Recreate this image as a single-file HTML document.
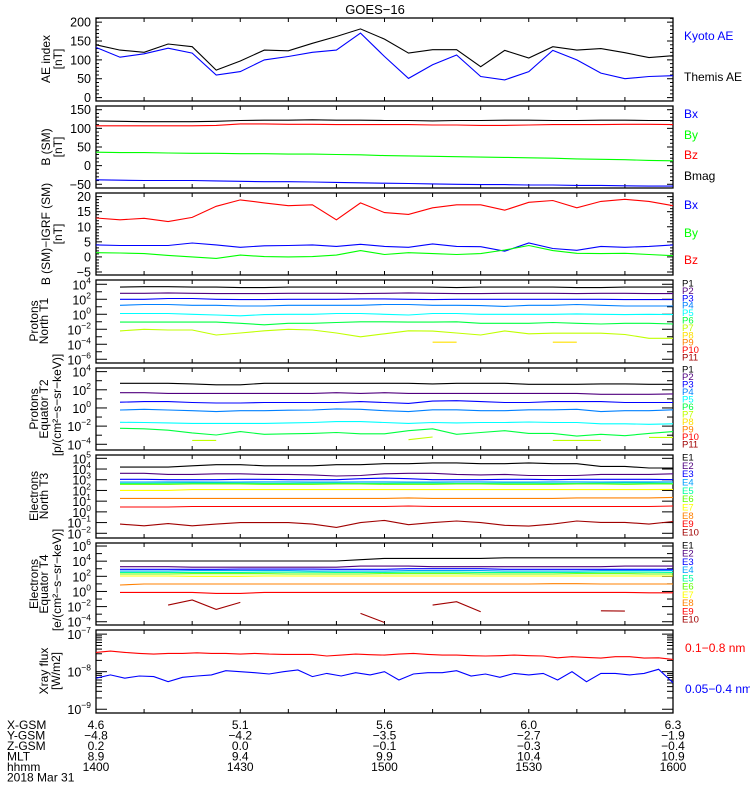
<!DOCTYPE html>
<html><head><meta charset="utf-8"><title>GOES-16</title>
<style>
html,body{margin:0;padding:0;background:#fff;}
svg{display:block;font-family:"Liberation Sans",sans-serif;}
</style></head>
<body>
<svg id="chart" width="750" height="800" viewBox="0 0 750 800" xmlns="http://www.w3.org/2000/svg">
<rect width="750" height="800" fill="#fff"/>
<text x="375" y="14" font-size="13" text-anchor="middle">GOES−16</text>
</svg>
<script>
// ---------- DATA ----------
const aeTimes = [0,5,10,15,20,25,30,35,40,45,50,55,60,65,70,75,80,85,90,95,100,105,110,115,120];
const themisAE = [140,126,120,142,135,73,97,126,124,144,162,182,155,118,127,127,82,125,105,135,126,130,119,106,111];
const kyotoAE = [133,107,116,131,118,60,69,100,109,120,126,171,109,51,87,113,56,47,69,125,100,65,50,56,58];
const bmag = [120,119,118,118,118,119,121,122,122,123,122,122,121,121,120,121,121,122,122,121,121,122,122,121,121];
const bz = [107,107,107,107,107,108,112,112,111,111,110,110,110,110,109,109,108,108,109,110,110,110,111,111,110];
const by = [36,35,35,34,33,33,32,32,31,31,30,29,27,26,25,24,23,22,21,20,18,17,16,14,13];
const bx = [-38,-39,-40,-40,-40,-41,-42,-43,-43,-44,-45,-46,-47,-48,-49,-50,-51,-51,-52,-52,-53,-53,-54,-55,-55];
const dBz = [12.9,12.3,12.8,11.7,13.1,16.8,18.9,17.9,17.0,17.3,12.3,17.9,14.7,14.1,16.3,17.3,17.3,15.5,18.1,18.7,16.3,18.4,19.1,18.4,17.0];
const dBx = [4.0,3.8,3.8,3.8,4.6,4.0,3.2,3.7,3.8,4.0,3.5,4.2,3.5,3.2,4.3,3.5,3.4,1.9,4.6,2.8,2.2,3.5,3.2,3.5,4.0];
const dBy = [1.4,1.3,1.1,0.5,0.0,-0.5,0.6,0.1,0.0,0.1,0.6,2.1,0.8,1.4,1.1,0.8,1.1,2.3,3.8,2.1,1.2,1.1,1.2,0.8,0.4];

const pTimes = [5,10,15,20,25,30,35,40,45,50,55,60,65,70,75,80,85,90,95,100,105,110,115,120];
// Protons North T1 (log10 flux)
const t1P1 = [3.62,3.68,3.68,3.62,3.62,3.55,3.55,3.62,3.62,3.62,3.62,3.62,3.62,3.62,3.55,3.62,3.62,3.62,3.62,3.55,3.55,3.62,3.62,3.62];
const t1P2 = [2.8,2.8,2.85,2.8,2.75,2.75,2.75,2.8,2.8,2.8,2.75,2.8,2.85,2.8,2.75,2.75,2.8,2.8,2.8,2.75,2.8,2.8,2.75,2.75];
const t1P3 = [2.0,2.0,2.1,2.1,2.0,1.95,1.95,2.0,2.0,2.0,2.05,2.05,2.0,1.95,2.0,2.0,2.0,2.0,2.0,2.0,2.0,1.95,1.95,1.95];
const t1P4 = [1.2,1.3,1.3,1.2,1.2,1.1,1.1,1.2,1.2,1.2,1.2,1.3,1.3,1.2,1.2,1.15,1.05,1.2,1.2,1.3,1.2,1.1,1.1,1.1];
const t1P5 = [0.1,0.1,0.1,0.0,-0.1,-0.2,-0.05,0.0,0.0,0.1,0.1,0.0,-0.1,0.1,0.1,0.0,0.0,0.0,0.0,0.05,0.0,-0.05,0.0,-0.05];
const t1P6 = [-1.05,-1.05,-1.05,-1.05,-1.05,-1.2,-1.4,-1.2,-1.2,-1.1,-1.0,-1.0,-1.05,-1.05,-1.0,-1.2,-1.2,-1.2,-1.1,-1.2,-1.3,-1.2,-1.2,-1.3];
const t1P7 = [-2.22,-2.0,-2.1,-2.1,-2.76,-2.5,-2.2,-2.0,-2.1,-2.5,-3.0,-2.6,-2.2,-2.25,-2.5,-2.76,-2.22,-2.6,-2.53,-2.53,-2.53,-2.7,-3.2,-3.2];
const t1P8 = [null,null,null,null,null,null,null,null,null,null,null,null,null,-3.73,-3.73,null,null,null,-3.73,-3.73,null,null,null,null];
// Protons Equator T2
const t2P1 = [2.72,2.72,2.72,2.65,2.55,2.55,2.72,2.72,2.72,2.72,2.72,2.72,2.72,2.65,2.72,2.72,2.72,2.6,2.6,2.6,2.65,2.65,2.6,2.6];
const t2P2 = [1.68,1.68,1.6,1.6,1.6,1.6,1.6,1.6,1.6,1.68,1.6,1.68,1.6,1.6,1.6,1.6,1.6,1.6,1.6,1.6,1.5,1.5,1.5,1.55];
const t2P3 = [0.63,0.7,0.7,0.6,0.55,0.55,0.6,0.6,0.6,0.6,0.7,0.6,0.5,0.75,0.8,0.7,0.6,0.6,0.7,0.7,0.7,0.6,0.6,0.6];
const t2P4 = [-0.22,-0.15,-0.22,-0.3,-0.4,-0.3,-0.3,-0.25,-0.22,-0.1,-0.15,-0.3,-0.4,-0.2,-0.2,-0.3,-0.3,-0.2,-0.2,-0.15,-0.4,-0.3,-0.3,-0.2];
const t2P5 = [-1.58,-1.6,-1.65,-1.7,-1.7,-1.7,-1.7,-1.65,-1.6,-1.5,-1.5,-1.6,-1.7,-1.6,-1.65,-1.6,-1.6,-1.55,-1.6,-1.6,-1.75,-1.75,-1.8,-1.75];
const t2P6 = [-2.24,-2.3,-2.45,-2.75,-2.98,-2.6,-2.9,-2.85,-2.8,-2.7,-2.85,-2.85,-2.5,-2.3,-2.9,-2.7,-2.5,-2.8,-2.8,-3.1,-2.9,-3.05,-2.8,-2.6];
const t2P7 = [null,null,null,-3.57,-3.57,null,null,null,null,null,null,null,-3.5,-3.2,null,null,null,null,-3.57,-3.57,-3.57,null,-3.24,-3.24];
// Electrons North T3
const t3E1 = [4.18,4.18,4.18,4.3,4.4,4.4,4.3,4.3,4.3,4.4,4.4,4.5,4.5,4.57,4.57,4.5,4.5,4.57,4.5,4.5,4.25,4.25,4.1,4.1];
const t3E2 = [3.6,3.6,3.5,3.5,3.55,3.55,3.5,3.5,3.45,3.35,3.4,3.55,3.6,3.6,3.5,3.45,3.5,3.4,3.4,3.4,3.5,3.5,3.5,3.55];
const t3E3 = [3.04,3.04,3.0,3.0,3.0,3.04,3.04,3.0,3.0,3.0,3.1,3.15,3.1,3.0,3.0,3.0,3.04,3.04,3.0,3.04,3.04,3.04,3.04,3.0];
const t3E4 = [2.78,2.78,2.8,2.8,2.78,2.78,2.8,2.8,2.78,2.78,2.8,2.8,2.78,2.78,2.8,2.8,2.78,2.78,2.8,2.8,2.78,2.8,2.8,2.8];
const t3E5 = [2.66,2.66,2.68,2.7,2.7,2.68,2.66,2.66,2.68,2.68,2.66,2.66,2.68,2.68,2.66,2.66,2.68,2.68,2.66,2.66,2.68,2.7,2.7,2.66];
const t3E6 = [2.57,2.57,2.57,2.6,2.6,2.6,2.57,2.57,2.57,2.6,2.6,2.57,2.57,2.57,2.6,2.6,2.57,2.57,2.57,2.6,2.6,2.57,2.6,2.6];
const t3E7 = [2.0,2.0,2.0,2.08,2.08,2.08,2.08,2.08,2.08,2.08,2.08,2.08,2.08,2.08,2.08,2.08,2.08,2.08,2.08,2.08,2.08,2.08,2.08,2.1];
const t3E8 = [1.26,1.26,1.26,1.26,1.26,1.26,1.26,1.26,1.26,1.26,1.26,1.26,1.3,1.26,1.26,1.26,1.26,1.26,1.26,1.3,1.3,1.3,1.3,1.35];
const t3E9 = [0.45,0.45,0.45,0.5,0.5,0.5,0.5,0.5,0.5,0.5,0.5,0.5,0.55,0.5,0.5,0.5,0.5,0.5,0.5,0.5,0.5,0.5,0.5,0.55];
const t3E10 = [-1.14,-1.3,-1.1,-1.3,-1.14,-1.0,-1.0,-1.0,-1.14,-1.45,-1.0,-0.8,-1.2,-1.0,-0.85,-1.0,-1.25,-1.33,-1.14,-0.85,-0.98,-0.98,-1.14,-0.9];
// Electrons Equator T4
const t4E1 = [4.02,4.02,4.02,4.02,4.02,4.02,4.02,4.02,4.02,4.02,4.2,4.37,4.37,4.37,4.37,4.37,4.45,4.45,4.45,4.45,4.45,4.45,4.45,4.45];
const t4E2 = [3.27,3.27,3.27,3.2,3.2,3.2,3.2,3.2,3.2,3.2,3.35,3.35,3.35,3.27,3.27,3.27,3.27,3.27,3.27,3.27,3.27,3.35,3.35,3.35];
const t4E3 = [2.92,2.92,2.92,2.92,2.92,2.95,2.95,2.95,2.95,2.92,2.92,2.92,3.0,3.0,3.0,3.0,2.92,2.92,2.92,2.92,2.92,2.92,2.92,2.92];
const t4E4 = [2.7,2.7,2.7,2.75,2.75,2.75,2.75,2.75,2.7,2.7,2.7,2.7,2.75,2.75,2.75,2.75,2.7,2.7,2.7,2.7,2.75,2.75,2.75,2.75];
const t4E5 = [2.52,2.52,2.52,2.52,2.52,2.52,2.55,2.55,2.55,2.52,2.52,2.52,2.55,2.55,2.55,2.52,2.52,2.52,2.52,2.52,2.55,2.55,2.55,2.52];
const t4E6 = [2.3,2.3,2.3,2.35,2.35,2.35,2.35,2.3,2.3,2.3,2.3,2.35,2.35,2.35,2.35,2.3,2.3,2.3,2.3,2.35,2.35,2.35,2.3,2.3];
const t4E7 = [2.04,2.04,2.04,2.0,2.0,2.0,2.04,2.04,2.04,2.04,2.04,2.04,2.04,2.04,2.04,2.04,2.04,2.04,2.04,2.04,2.04,2.04,2.04,2.04];
const t4E8 = [0.85,0.98,0.98,0.98,0.98,0.98,0.98,0.98,0.98,0.98,0.98,0.98,0.98,0.98,0.98,0.98,0.98,0.98,1.02,1.02,0.98,0.98,0.98,0.98];
const t4E9 = [-0.12,-0.12,-0.12,-0.12,-0.25,-0.25,-0.12,-0.12,-0.12,-0.12,-0.12,-0.12,-0.12,-0.12,-0.12,-0.12,-0.12,-0.12,-0.12,-0.12,-0.12,-0.12,-0.18,-0.18];
const t4E10 = [null,null,-1.8,-1.13,-2.37,-1.44,null,null,null,null,-2.9,-4.1,null,-1.8,-1.35,-2.68,null,null,null,null,-2.55,-2.6,null,null];

// X-ray flux, W/m2, 3-minute samples
const xTimes = [0,3,6,9,12,15,18,21,24,27,30,33,36,39,42,45,48,51,54,57,60,63,66,69,72,75,78,81,84,87,90,93,96,99,102,105,108,111,114,117,120];
const xrayLong = [3.26e-8,3.54e-8,3.26e-8,3.07e-8,2.94e-8,3.07e-8,3.07e-8,3.19e-8,3.07e-8,3.07e-8,2.94e-8,3.07e-8,2.94e-8,2.89e-8,2.89e-8,2.89e-8,2.61e-8,2.77e-8,2.94e-8,2.83e-8,2.77e-8,2.94e-8,3.07e-8,2.89e-8,2.77e-8,2.77e-8,2.66e-8,2.61e-8,2.66e-8,2.77e-8,2.66e-8,2.61e-8,2.35e-8,2.5e-8,2.4e-8,2.3e-8,2.5e-8,2.5e-8,2.3e-8,2.35e-8,2.13e-8];
const xrayShort = [6.7e-9,8.2e-9,6.7e-9,7.7e-9,7.4e-9,5.4e-9,7.1e-9,7.7e-9,8.2e-9,1.06e-8,1.0e-8,9.4e-9,8.7e-9,1.0e-8,1.11e-8,7.4e-9,9.0e-9,7.7e-9,9.4e-9,8.2e-9,1.0e-8,6.0e-9,8.7e-9,9.4e-9,9.4e-9,1.06e-8,7.7e-9,8.7e-9,7.1e-9,9.0e-9,8.2e-9,9.0e-9,6.0e-9,1.0e-8,5.4e-9,9.0e-9,9.0e-9,8.2e-9,9.0e-9,1.16e-8,5.1e-9];

const xTickLabels = [
  ["4.6","5.1","5.6","6.0","6.3"],
  ["−4.8","−4.2","−3.5","−2.7","−1.9"],
  ["0.2","0.0","−0.1","−0.3","−0.4"],
  ["8.9","9.4","9.9","10.4","10.9"],
  ["1400","1430","1500","1530","1600"]
];
const xTickTimes = [0,30,60,90,120];
const rowNames = ["X-GSM","Y-GSM","Z-GSM","MLT","hhmm"];

// ---------- DRAWING ----------
const NS = "http://www.w3.org/2000/svg";
const svg = document.getElementById('chart');
const X0 = 96, X1 = 673;
function xs(t){ return X0 + (t/120)*(X1-X0); }
function mk(tag, attrs, parent){
  const e = document.createElementNS(NS, tag);
  for (const k in attrs) e.setAttribute(k, attrs[k]);
  (parent||svg).appendChild(e);
  return e;
}
function linScale(y0, y1, v0, v1){ return v => y1 - (v - v0)/(v1 - v0)*(y1 - y0); }

function drawLine(g, times, vals, sy, color, name){
  let d = "", pen = false;
  for (let i=0;i<times.length;i++){
    const v = vals[i];
    if (v === null || v === undefined){ pen = false; continue; }
    d += (pen ? "L" : "M") + xs(times[i]).toFixed(1) + "," + sy(v).toFixed(1);
    pen = true;
  }
  const p = mk('path', {d:d, fill:'none', stroke:color, 'stroke-width':'1.1'}, g);
  
  
  return p;
}

function panelFrame(y0, y1, name){
  const g = mk('g', {});
  
  
  const r = mk('rect', {x:X0, y:y0, width:X1-X0, height:y1-y0, fill:'none', stroke:'#000', 'stroke-width':'1.3'}, g);
  
  
  for (let t=10; t<120; t+=10){
    const x = xs(t);
    mk('line', {x1:x, x2:x, y1:y1, y2:y1-4, stroke:'#000'}, g);
    mk('line', {x1:x, x2:x, y1:y0, y2:y0+4, stroke:'#000'}, g);
  }
  return g;
}
function yTick(g, y, len){
  mk('line', {x1:X0, x2:X0+len, y1:y, y2:y, stroke:'#000'}, g);
  mk('line', {x1:X1, x2:X1-len, y1:y, y2:y, stroke:'#000'}, g);
}
function linLabel(g, y, text){
  const t = mk('text', {x:91, y:y+4.5, 'font-size':'12.5', 'text-anchor':'end'}, g);
  t.textContent = text;
  
  
}
function logLabel(g, y, exp){
  const t = mk('text', {x:91, y:y+5, 'font-size':'12.5', 'text-anchor':'end'}, g);
  
  
  const a = mk('tspan', {}, t); a.textContent = "10";
  const b = mk('tspan', {dy:'-6', 'font-size':'8.5'}, t); b.textContent = String(exp).replace('-', '−');
}
function yTitle(lines, cx, cy, xs_, name){
  lines.forEach((s, i) => {
    const t = mk('text', {x:0, y:0, 'font-size':'12', 'text-anchor':'middle',
      transform:'translate(' + xs_[i] + ',' + cy + ') rotate(-90)'});
    t.textContent = s;
    
    
  });
}
function legend(text, x, y, color, size, name){
  const t = mk('text', {x:x, y:y, fill:color, 'font-size':size});
  t.textContent = text;
  
  
}

// Panel 1: AE
(function(){
  const y0=18, y1=101, sy=linScale(y0,y1,-9,211);
  const g = panelFrame(y0,y1,'ae-panel');
  for (let v=0; v<=210; v+=10) yTick(g, sy(v), v%50===0?6:3);
  [0,50,100,150,200].forEach(v=>linLabel(g, sy(v), String(v)));
  drawLine(g, aeTimes, themisAE, sy, '#000', 'themis-ae-line');
  drawLine(g, aeTimes, kyotoAE, sy, '#0000ff', 'kyoto-ae-line');
  yTitle(['AE index','[nT]'], 0, 59, [50,62], 'ae-y-title');
  legend('Kyoto AE', 684, 40, '#0000ff', 12, 'legend-kyoto-ae');
  legend('Themis AE', 684, 81, '#000', 12, 'legend-themis-ae');
})();
// Panel 2: B (SM)
(function(){
  const y0=106, y1=188, sy=linScale(y0,y1,-60,160);
  const g = panelFrame(y0,y1,'b-sm-panel');
  for (let v=-50; v<=150; v+=10) yTick(g, sy(v), v%50===0?6:3);
  [-50,0,50,100,150].forEach(v=>linLabel(g, sy(v), String(v).replace('-','−')));
  drawLine(g, aeTimes, bmag, sy, '#000', 'bmag-line');
  drawLine(g, aeTimes, bz, sy, '#ff0000', 'bz-line');
  drawLine(g, aeTimes, by, sy, '#00ff00', 'by-line');
  drawLine(g, aeTimes, bx, sy, '#0000ff', 'bx-line');
  yTitle(['B (SM)','[nT]'], 0, 147, [50,62], 'b-sm-y-title');
  legend('Bx', 684, 118, '#0000ff', 12, 'legend-bx');
  legend('By', 684, 139, '#00ff00', 12, 'legend-by');
  legend('Bz', 684, 159, '#ff0000', 12, 'legend-bz');
  legend('Bmag', 684, 180, '#000', 12, 'legend-bmag');
})();
// Panel 3: B - IGRF
(function(){
  const y0=193, y1=275, sy=linScale(y0,y1,-6,21.2);
  const g = panelFrame(y0,y1,'b-igrf-panel');
  for (let v=-5; v<=20; v+=1) yTick(g, sy(v), v%5===0?6:3);
  [-5,0,5,10,15,20].forEach(v=>linLabel(g, sy(v), String(v).replace('-','−')));
  drawLine(g, aeTimes, dBz, sy, '#ff0000', 'dbz-line');
  drawLine(g, aeTimes, dBx, sy, '#0000ff', 'dbx-line');
  drawLine(g, aeTimes, dBy, sy, '#00ff00', 'dby-line');
  yTitle(['B (SM)−IGRF (SM)','[nT]'], 0, 234, [50,62], 'b-igrf-y-title');
  legend('Bx', 684, 209, '#0000ff', 12, 'legend-dbx');
  legend('By', 684, 237, '#00ff00', 12, 'legend-dby');
  legend('Bz', 684, 264, '#ff0000', 12, 'legend-dbz');
})();

const pColors = ['#000','#50007f','#0000ff','#0080ff','#00ffff','#00ff40','#c0ff00','#ffe000','#ff8000','#ff0000','#a00000'];
const eColors = ['#000','#50007f','#0000ff','#00a0ff','#00ff9f','#60ff00','#ffff00','#ff8000','#ff0000','#a00000'];

function logPanel(y0,y1,lmin,lmax,labelExps,series,colors,prefix,labelY0,labelY1,name){
  const sy = linScale(y0,y1,lmin,lmax);
  const g = panelFrame(y0,y1,name);
  for (let e=Math.ceil(lmin); e<=Math.floor(lmax); e++) yTick(g, sy(e), labelExps.includes(e)?11:6);
  labelExps.forEach(e=>logLabel(g, sy(e), e));
  series.forEach((s,i)=>drawLine(g, pTimes, s, sy, colors[i], name + '-' + prefix + (i+1)));
  const n = colors.length;
  for (let i=0;i<n;i++){
    const y = labelY0 + (labelY1-labelY0)*i/(n-1);
    const t = mk('text', {x:682, y:y+3.5, fill:colors[i], 'font-size':'9.5'});
    t.textContent = prefix + (i+1);
    
    
  }
  return g;
}
logPanel(280,363,-6.5,4.57,[4,2,0,-2,-4,-6],[t1P1,t1P2,t1P3,t1P4,t1P5,t1P6,t1P7,t1P8],pColors,'P',283,357,'protons-north-t1');
logPanel(368,450,-4.63,4.4,[4,2,0,-2,-4],[t2P1,t2P2,t2P3,t2P4,t2P5,t2P6,t2P7],pColors,'P',369,444,'protons-equator-t2');
logPanel(455,538,-2.44,5.31,[5,4,3,2,1,0,-1,-2],[t3E1,t3E2,t3E3,t3E4,t3E5,t3E6,t3E7,t3E8,t3E9,t3E10],eColors,'E',457,532,'electrons-north-t3');
logPanel(543,625,-4.43,6.4,[6,4,2,0,-2,-4],[t4E1,t4E2,t4E3,t4E4,t4E5,t4E6,t4E7,t4E8,t4E9,t4E10],eColors,'E',545,619,'electrons-equator-t4');
yTitle(['Protons','North T1'], 0, 321, [38,48], 't1-y-title');
yTitle(['Protons','Equator T2'], 0, 409, [38,48], 't2-y-title');
yTitle(['[p/(cm²−s−sr−keV)]'], 0, 405, [61], 'proton-units');
yTitle(['Electrons','North T3'], 0, 496, [38,48], 't3-y-title');
yTitle(['Electrons','Equator T4'], 0, 584, [38,48], 't4-y-title');
yTitle(['[e/(cm²−s−sr−keV)]'], 0, 580, [61], 'electron-units');

// Panel 8: X-ray
(function(){
  const y0=630, y1=713, sy=linScale(y0,y1,-9.1,-6.89);
  const g = panelFrame(y0,y1,'xray-panel');
  for (let d=-9; d<=-7; d++){
    yTick(g, sy(d), 11);
    if (d<-7) for (let m=2;m<=9;m++) yTick(g, sy(d+Math.log10(m)), 6);
  }
  [-7,-8,-9].forEach(e=>logLabel(g, sy(e), e));
  const logL = xrayLong.map(v=>Math.log10(v));
  const logS = xrayShort.map(v=>Math.log10(v));
  function xl(times, vals, color, nm){
    let d="";
    times.forEach((t,i)=>{ d += (i?"L":"M") + xs(t).toFixed(1) + "," + sy(vals[i]).toFixed(1); });
    const p = mk('path', {d:d, fill:'none', stroke:color, 'stroke-width':'1.1'}, g);
    
    
  }
  xl(xTimes, logL, '#ff0000', 'xray-long-line');
  xl(xTimes, logS, '#0000ff', 'xray-short-line');
  yTitle(['Xray flux','[W/m2]'], 0, 671, [48,60], 'xray-y-title');
  legend('0.1−0.8 nm', 685, 652, '#ff0000', 12, 'legend-xray-long');
  legend('0.05−0.4 nm', 685, 693, '#0000ff', 12, 'legend-xray-short');
})();

// Bottom ephemeris labels
(function(){
  const g = mk('g', {});
  
  
  const rowY = [729, 739.5, 750, 760.5, 771];
  rowNames.forEach((n,i)=>{
    const t = mk('text', {x:7, y:rowY[i], 'font-size':'12'}, g);
    t.textContent = n;
    
    
    xTickTimes.forEach((tt,j)=>{
      const v = mk('text', {x:xs(tt), y:rowY[i], 'font-size':'12', 'text-anchor':'middle'}, g);
      v.textContent = xTickLabels[i][j];
      
      
    });
  });
  const d = mk('text', {x:7, y:781.5, 'font-size':'12'}, g);
  d.textContent = '2018 Mar 31';
  
  
})();
</script>
</body></html>
